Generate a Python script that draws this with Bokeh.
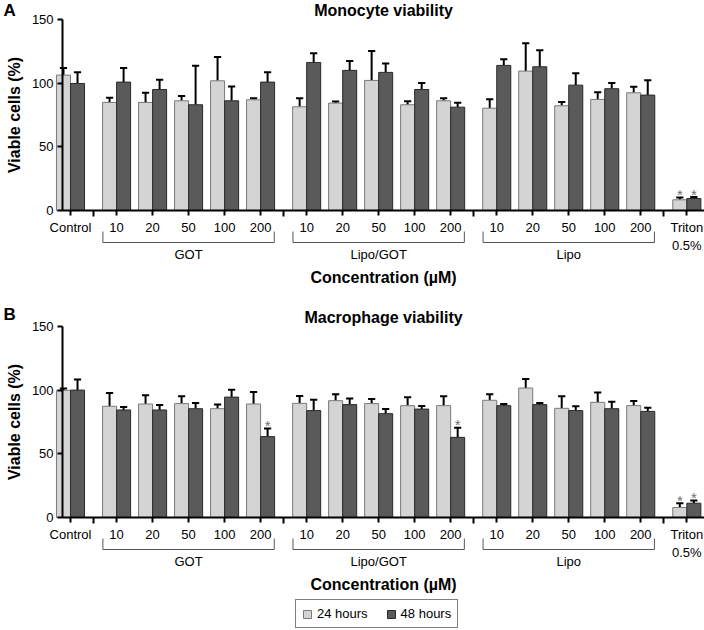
from bokeh.plotting import figure
from bokeh.models import (LinearAxis, FixedTicker, CustomJSTickFormatter,
                          ColumnDataSource, Legend, LegendItem, Range1d)
from bokeh.layouts import column
from bokeh.core.properties import value
from bokeh.embed import file_html
from bokeh.resources import INLINE

# ---------------- data ----------------
tick_labels = ["Control",
               "10", "20", "50", "100", "200",
               "10", "20", "50", "100", "200",
               "10", "20", "50", "100", "200",
               "Triton\n0.5%"]
group_names = ["GOT", "Lipo/GOT", "Lipo"]
group_sizes = [5, 5, 5]
series_names = ["24 hours", "48 hours"]

mono_24 = [106.3, 84.8, 84.8, 86.1, 101.8, 86.9, 81.4, 84.3, 102.1, 83.0, 86.1,
           80.3, 109.4, 82.2, 87.2, 92.4, 8.4]
mono_24_err = [5.5, 3.7, 7.6, 3.7, 18.6, 1.2, 6.8, 1.3, 23.0, 2.8, 2.1,
               7.1, 21.8, 2.9, 5.7, 4.7, 1.8]
mono_48 = [99.7, 100.8, 95.0, 83.0, 86.1, 100.8, 116.2, 110.0, 108.4, 95.0, 81.1,
           113.9, 112.8, 98.4, 95.6, 90.6, 9.4]
mono_48_err = [8.9, 11.0, 7.6, 30.6, 11.3, 7.8, 7.3, 7.3, 7.0, 5.0, 3.5,
               4.9, 12.9, 9.4, 4.4, 11.7, 1.1]
mono_24_sig = [0] * 16 + [1]
mono_48_sig = [0] * 16 + [1]

macro_24 = [99.8, 87.3, 89.1, 89.4, 85.4, 89.1, 89.6, 91.7, 89.4, 87.8, 87.8,
            92.0, 101.6, 85.7, 90.4, 87.8, 7.8]
macro_24_err = [1.5, 10.4, 6.8, 5.7, 3.2, 9.4, 5.7, 5.0, 3.6, 6.5, 7.3,
                4.7, 7.1, 9.4, 7.8, 3.6, 3.4]
macro_48 = [100.0, 84.4, 84.4, 85.4, 94.5, 63.5, 83.9, 88.6, 81.5, 85.1, 62.9,
            87.8, 88.6, 83.9, 85.4, 83.3, 11.2]
macro_48_err = [8.4, 2.3, 3.9, 4.4, 5.8, 6.3, 8.6, 4.9, 3.6, 2.4, 7.6,
                1.3, 1.2, 3.4, 5.5, 2.9, 2.1]
macro_24_sig = [0] * 16 + [1]
macro_48_sig = [0, 0, 0, 0, 0, 1, 0, 0, 0, 0, 1, 0, 0, 0, 0, 0, 1]

y_ticks = [0, 50, 100, 150]

# ---------------- layout / style ----------------
FONT = "Liberation Sans"
GAP = 1.28            # distance between groups (in category steps)
PX_X = 36.0           # px per category step
PX_Y = 1.274          # px per % unit
FIG_W = 704
BAR_W = 0.39
CAP_W = 0.2
LIGHT, LIGHT_EDGE = "#d4d4d4", "#7a7a7a"
DARK, DARK_EDGE = "#5a5a5a", "#2a2a2a"

# category positions
positions = [0.0]
cur = 0.0
group_spans = []
for size in group_sizes:
    cur += GAP
    first = cur
    for j in range(size):
        if j > 0:
            cur += 1.0
        positions.append(cur)
    group_spans.append((first, cur))
cur += GAP
positions.append(cur)

separators = [(positions[i] + positions[i + 1]) / 2
              for i in range(len(positions) - 1)
              if positions[i + 1] - positions[i] > 1.01]

X0 = -70.0 / PX_X
X1 = X0 + FIG_W / PX_X
Y_AXIS_X = positions[0] - BAR_W / 2 - 0.025


def px(v):
    return v / PX_Y


def make_panel(letter, title, v24, e24, s24, v48, e48, s48, height, zero_from_top,
               letter_dy, legend_loc):
    y_end = px(zero_from_top)
    y_start = -px(height - zero_from_top)
    p = figure(width=FIG_W, height=height, output_backend="svg",
               toolbar_location=None, tools="",
               x_range=Range1d(X0, X1), y_range=Range1d(y_start, y_end),
               x_axis_type=None, y_axis_type=None,
               min_border=0, min_border_left=0, min_border_right=0,
               min_border_top=0, min_border_bottom=0)
    p.outline_line_color = None
    p.background_fill_color = "white"
    p.border_fill_color = "white"

    xl = [x - BAR_W / 2 for x in positions]
    xd = [x + BAR_W / 2 for x in positions]
    renderers = []
    for xs, vals, errs, sig, fill, edge in ((xl, v24, e24, s24, LIGHT, LIGHT_EDGE),
                                            (xd, v48, e48, s48, DARK, DARK_EDGE)):
        tops = [v + e for v, e in zip(vals, errs)]
        src = ColumnDataSource(dict(
            x=xs, top=vals, etop=tops,
            cl=[x - CAP_W / 2 for x in xs], cr=[x + CAP_W / 2 for x in xs]))
        p.segment(x0="x", y0="top", x1="x", y1="etop", source=src,
                  line_color="black", line_width=2)
        p.segment(x0="cl", y0="etop", x1="cr", y1="etop", source=src,
                  line_color="black", line_width=2)
        r = p.vbar(x="x", top="top", bottom=0, width=BAR_W, source=src,
                   fill_color=fill, line_color=edge, line_width=1)
        renderers.append(r)
        sx = [x for x, s in zip(xs, sig) if s]
        sy = [t + px(3) for t, s in zip(tops, sig) if s]
        p.text(x=sx, y=sy, text=["*"] * len(sx), text_align="center",
               text_baseline="alphabetic", text_color="#707070",
               text_font=value(FONT), text_font_size="15px")

    # axes
    yaxis = LinearAxis(fixed_location=Y_AXIS_X, bounds=(0, 150),
                       ticker=FixedTicker(ticks=y_ticks),
                       axis_label="Viable cells (%)")
    yaxis.axis_line_width = 2
    yaxis.major_tick_line_width = 2
    yaxis.major_tick_out = 5
    yaxis.major_tick_in = 0
    yaxis.major_label_standoff = 4
    yaxis.major_label_text_font = FONT
    yaxis.major_label_text_font_size = "13px"
    yaxis.major_label_text_color = "black"
    yaxis.axis_label_text_font = FONT
    yaxis.axis_label_text_font_size = "16px"
    yaxis.axis_label_text_font_style = "bold"
    yaxis.axis_label_text_color = "black"
    yaxis.axis_label_standoff = 6
    p.add_layout(yaxis, "left")

    xaxis = LinearAxis(fixed_location=0, bounds=(Y_AXIS_X, X1),
                       ticker=FixedTicker(ticks=positions, minor_ticks=separators),
                       formatter=CustomJSTickFormatter(args=dict(labels=tick_labels),
                                                       code="return labels[index]"))
    xaxis.axis_line_width = 2
    xaxis.major_tick_line_width = 2
    xaxis.minor_tick_line_width = 2
    xaxis.major_tick_out = 5
    xaxis.major_tick_in = 0
    xaxis.minor_tick_out = 6
    xaxis.minor_tick_in = 0
    xaxis.major_label_standoff = 3
    xaxis.major_label_text_font = FONT
    xaxis.major_label_text_font_size = "13px"
    xaxis.major_label_text_color = "black"
    p.add_layout(xaxis, "below")

    # group brackets and labels
    yb, yt = -px(32), -px(21)
    xs_, ys_ = [], []
    for (a, b) in group_spans:
        xs_.append([a - 0.38, a - 0.38, b + 0.38, b + 0.38])
        ys_.append([yt, yb, yb, yt])
    p.multi_line(xs=xs_, ys=ys_, line_color="#555555", line_width=1)
    p.text(x=[(a + b) / 2 for a, b in group_spans], y=[-px(44)] * len(group_spans),
           text=group_names, text_align="center", text_baseline="middle",
           text_font=value(FONT), text_font_size="13px", text_color="black")
    p.text(x=[(Y_AXIS_X + X1) / 2], y=[-px(67)], text=["Concentration (\u00b5M)"],
           text_align="center", text_baseline="middle", text_font=value(FONT),
           text_font_size="16px", text_font_style="bold", text_color="black")

    # panel title and letter
    ty = 150 + px(9)
    p.text(x=[(Y_AXIS_X + X1) / 2], y=[ty], text=[title], text_align="center",
           text_baseline="middle", text_font=value(FONT), text_font_size="16px",
           text_font_style="bold", text_color="black")
    p.text(x=[X0 + 3 / PX_X], y=[ty + px(letter_dy)], text=[letter], text_align="left",
           text_baseline="middle", text_font=value(FONT), text_font_size="17px",
           text_font_style="bold", text_color="black")

    if legend_loc is not None:
        legend = Legend(items=[LegendItem(label=series_names[0], renderers=[renderers[0]]),
                               LegendItem(label=series_names[1], renderers=[renderers[1]])],
                        orientation="horizontal", location=legend_loc)
        legend.glyph_width = 10
        legend.glyph_height = 10
        legend.label_height = 12
        legend.label_standoff = 5
        legend.spacing = 18
        legend.padding = 6
        legend.margin = 0
        legend.label_text_font = FONT
        legend.label_text_font_size = "13px"
        legend.label_text_color = "black"
        legend.border_line_color = "black"
        legend.border_line_width = 1
        legend.background_fill_color = "white"
        legend.background_fill_alpha = 1
        p.add_layout(legend)
    return p


top = make_panel("A", "Monocyte viability", mono_24, mono_24_err, mono_24_sig,
                 mono_48, mono_48_err, mono_48_sig, 296, 210, 0, None)
bottom = make_panel("B", "Macrophage viability", macro_24, macro_24_err, macro_24_sig,
                    macro_48, macro_48_err, macro_48_sig, 333, 221, 3, (295, 1))

layout = column(top, bottom, spacing=0)
open("out.html", "w").write(file_html(layout, INLINE))
